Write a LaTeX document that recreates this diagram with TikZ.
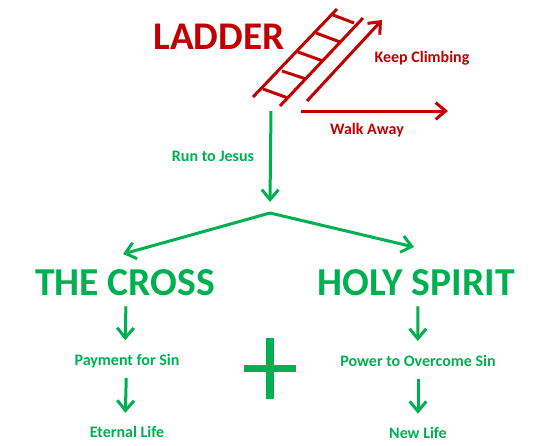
\documentclass[tikz,border=0pt]{standalone}
\usepackage{fontspec}
\setmainfont{Carlito}
\usetikzlibrary{arrows.meta, positioning}
\definecolor{LadderRed}{HTML}{C00000}
\definecolor{CrossGreen}{HTML}{00B050}
\begin{document}
\begin{tikzpicture}[x=0.75pt, y=-0.75pt, >={Straight Barb[length=7.5pt, width=12.5pt]},
    bigtext/.style={inner sep=0pt, font=\bfseries\fontsize{29.7}{30}\selectfont, text height=19pt, text depth=0pt},
    smalltext/.style={inner sep=0pt, font=\bfseries\fontsize{12}{13}\selectfont, text height=8.7pt, text depth=2.7pt},
    redline/.style={line width=2.25pt, LadderRed},
    greenline/.style={line width=2.25pt, CrossGreen}]
      \useasboundingbox (0,0) rectangle (540,446);

      \node[bigtext, LadderRed, font=\bfseries\fontsize{29.4}{30}\selectfont, text height=18pt] (ladder) at (219,37) {LADDER};
      \node[smalltext, LadderRed] (keep) at (422,58.5) {Keep Climbing};
      \node[smalltext, LadderRed] (walk) at (367,130.5) {Walk Away};
      \node[smalltext, CrossGreen] (run) at (213,157.5) {Run to Jesus};

      \node[bigtext, CrossGreen] (cross) at (125,283) {THE CROSS};
      \node[smalltext, CrossGreen, below=43.4pt of cross, xshift=1.5pt] (payment) {Payment for Sin};
      \node[smalltext, CrossGreen, below=42.4pt of payment] (eternal) {Eternal Life};
      \node[bigtext, CrossGreen] (spirit) at (416,283) {HOLY SPIRIT};
      \node[smalltext, CrossGreen, below=44pt of spirit, xshift=1.5pt] (power) {Power to Overcome Sin};
      \node[smalltext, CrossGreen, below=42.4pt of power] (newlife) {New Life};

      \coordinate (railAfoot) at (253,97);
      \coordinate (railAtop) at (337,9);
      \coordinate (railBfoot) at (280,106);
      \coordinate (railBtop) at (363,18);
      \draw[redline] (railAfoot) -- (railAtop);
      \draw[redline] (railBfoot) -- (railBtop);
      \foreach \xa/\ya/\xb/\yb in {263/89/288/98, 282/71/306/79, 298/52/323/61, 316/33/340/42, 333/15/354/23}
        \draw[redline] (\xa,\ya) -- (\xb,\yb);

      \coordinate (climbfrom) at (307,101);
      \coordinate (climbto) at (382,20);
      \coordinate (walkfrom) at (301,111);
      \coordinate (walkto) at (448,111);
      \draw[->, redline] (climbfrom) -- (climbto);
      \draw[->, redline] (walkfrom) -- (walkto);

      \coordinate (runfrom) at (271,111);
      \coordinate (runto) at (270,202);
      \coordinate (fork) at (270,213);
      \coordinate (crosstop) at (123,254);
      \coordinate (spirittop) at (414,247);
      \draw[->, greenline] (runfrom) -- (runto);
      \draw[->, greenline] (fork) -- (crosstop);
      \draw[->, greenline] (fork) -- (spirittop);

      \draw[->, greenline, shorten <=7.75pt, shorten >=10.2pt] ([xshift=0.8pt]cross.south) -- ([xshift=-1.5pt]payment.north);
      \draw[->, greenline, shorten <=6.2pt, shorten >=9.9pt] ([xshift=-0.4pt]payment.south) -- ([xshift=-1.5pt]eternal.north);
      \draw[->, greenline, shorten <=7.75pt, shorten >=10.2pt] ([xshift=1.5pt]spirit.south) -- ([xshift=-0.2pt]power.north);
      \draw[->, greenline, shorten <=6.2pt, shorten >=9.9pt] (power) -- (newlife);

      \fill[CrossGreen] (266.3,337.7) rectangle (274,399.3);
      \fill[CrossGreen] (244.3,365) rectangle (296,372.3);
    \end{tikzpicture}
\end{document}
